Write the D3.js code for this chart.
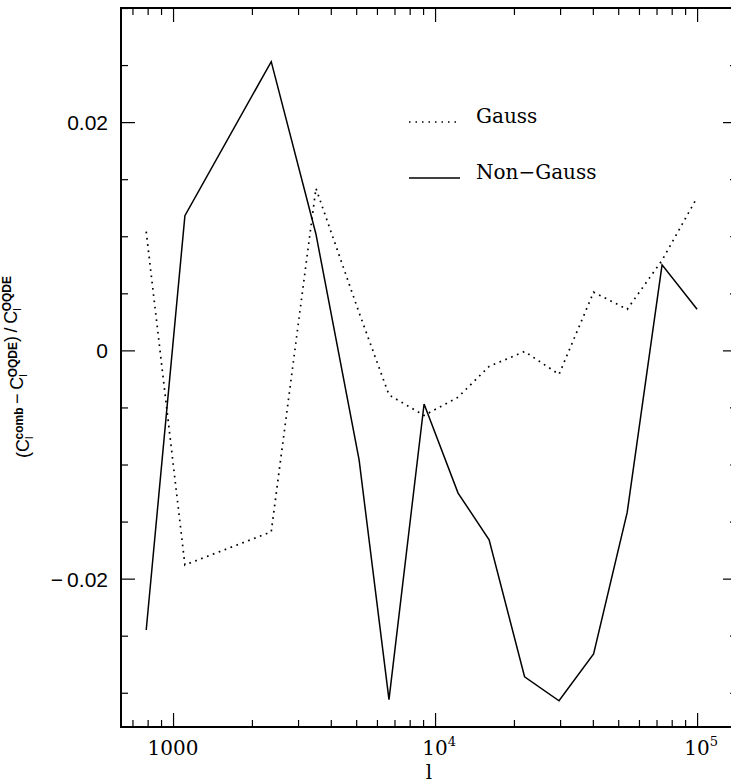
<!DOCTYPE html>
<html>
<head>
<meta charset="utf-8">
<script src="https://cdn.jsdelivr.net/npm/d3@7"></script>
<style>
  body { margin: 0; background: #fff; }
  svg { display: block; }
</style>
</head>
<body>
<div id="chart"></div>
<script>
// multipole l and relative difference (C_l^comb - C_l^OQDE) / C_l^OQDE
const ells = [790, 1110, 2370, 3510, 5130, 6670, 9080, 12240, 16080, 21960, 29720, 40270, 54100, 73500, 100000]
const gauss = [0.0104, -0.0188, -0.0159, 0.0142, 0.0033, -0.0039, -0.0057, -0.0041, -0.0014, -0.0001, -0.0021, 0.0051, 0.0036, 0.0079, 0.0134]
const nonGauss = [-0.0245, 0.0118, 0.0253, 0.0102, -0.0096, -0.0306, -0.0047, -0.0125, -0.0166, -0.0286, -0.0307, -0.0266, -0.0142, 0.0075, 0.0036]

const xMajor = [1000, 1e4, 1e5]
const xLabels = [['1000', ''], ['10', '4'], ['10', '5']]
const yMajor = [-0.02, 0, 0.02]
const yLabels = ['\u2212\u20090.02', '0', '0.02']

const width = 731
const height = 783
const frame = { left: 121, right: 737, top: 8, bottom: 727 }

const svg = d3.select('#chart')
  .append('svg')
  .attr('width', width)
  .attr('height', height)

const x = d3.scaleLog()
  .domain([633, 142000])
  .range([frame.left, frame.right])

const y = d3.scaleLinear()
  .domain([-0.033, 0.030])
  .range([frame.bottom, frame.top])

const xMinor = x.ticks().filter(d => !xMajor.includes(d))
const yMinor = d3.range(-0.03, 0.0301, 0.005).map(d => +d.toFixed(3)).filter(d => !yMajor.includes(d))

// inward ticks on all four sides
function drawTicks (axis, values, size, transform) {
  const g = svg.append('g')
    .attr('transform', transform)
    .call(axis.tickValues(values).tickSize(size).tickSizeOuter(0).tickFormat(''))
  g.select('.domain').remove()
  g.selectAll('line').attr('stroke', '#000').attr('stroke-width', 1.2)
}

drawTicks(d3.axisBottom(x), xMinor, -7, `translate(0,${frame.bottom})`)
drawTicks(d3.axisBottom(x), xMajor, -14, `translate(0,${frame.bottom})`)
drawTicks(d3.axisTop(x), xMinor, -7, `translate(0,${frame.top})`)
drawTicks(d3.axisTop(x), xMajor, -14, `translate(0,${frame.top})`)
drawTicks(d3.axisLeft(y), yMinor, -7, `translate(${frame.left},0)`)
drawTicks(d3.axisLeft(y), yMajor, -14, `translate(${frame.left},0)`)
drawTicks(d3.axisRight(y), yMinor, -7, `translate(${frame.right},0)`)
drawTicks(d3.axisRight(y), yMajor, -14, `translate(${frame.right},0)`)

svg.append('rect')
  .attr('x', frame.left)
  .attr('y', frame.top)
  .attr('width', frame.right - frame.left)
  .attr('height', frame.bottom - frame.top)
  .attr('fill', 'none')
  .attr('stroke', '#000')
  .attr('stroke-width', 2)

// tick labels
svg.selectAll('.ylab')
  .data(yMajor)
  .join('text')
  .attr('class', 'ylab')
  .attr('x', 108)
  .attr('y', d => y(d) + 8)
  .attr('text-anchor', 'end')
  .attr('font-family', 'Liberation Sans, Arial, sans-serif')
  .attr('font-size', 21)
  .text((d, i) => yLabels[i])

const xl = svg.selectAll('.xlab')
  .data(xMajor)
  .join('text')
  .attr('class', 'xlab')
  .attr('x', (d, i) => x(d) + (xLabels[i][1] ? 4 : 0))
  .attr('y', 755)
  .attr('text-anchor', 'middle')
  .attr('font-family', 'DejaVu Serif, serif')
  .attr('font-size', 20)

xl.append('tspan').text((d, i) => xLabels[i][0])
xl.append('tspan')
  .attr('dy', -9)
  .attr('font-size', 13)
  .text((d, i) => xLabels[i][1])

svg.append('text')
  .attr('x', 429)
  .attr('y', 779)
  .attr('text-anchor', 'middle')
  .attr('font-family', 'DejaVu Serif, serif')
  .attr('font-size', 20)
  .text('l')

// y axis title
const yt = svg.append('text')
  .attr('transform', 'translate(29,367) rotate(-90)')
  .attr('text-anchor', 'middle')
  .attr('font-family', 'Liberation Sans, Arial, sans-serif')
  .attr('font-size', 18)

function cTerm (prefix, sup) {
  yt.append('tspan').text(prefix)
  yt.append('tspan').attr('font-size', 11).attr('dy', 4).text('l')
  yt.append('tspan').attr('font-size', 12).attr('font-weight', 'bold').attr('dx', -3).attr('dy', -10).text(sup)
  yt.append('tspan').attr('dy', 6).text('')
}
cTerm('(C', 'comb')
cTerm('\u2009\u2212\u2009C', 'OQDE')
cTerm(')\u2009/\u2009C', 'OQDE')

// data lines
const line = d3.line()
  .x((d, i) => x(ells[i]))
  .y(d => y(d))

svg.append('path')
  .datum(gauss)
  .attr('d', line)
  .attr('fill', 'none')
  .attr('stroke', '#000')
  .attr('stroke-width', 1.7)
  .attr('stroke-dasharray', '1.7 4.6')

svg.append('path')
  .datum(nonGauss)
  .attr('d', line)
  .attr('fill', 'none')
  .attr('stroke', '#000')
  .attr('stroke-width', 1.5)

// legend
const legend = [
  { label: 'Gauss', dash: '1.5 5', y: 122 },
  { label: 'Non\u2212Gauss', dash: null, y: 178 }
]

legend.forEach(d => {
  svg.append('line')
    .attr('x1', 409)
    .attr('x2', 460)
    .attr('y1', d.y)
    .attr('y2', d.y)
    .attr('stroke', '#000')
    .attr('stroke-width', d.dash ? 1.7 : 1.5)
    .attr('stroke-dasharray', d.dash)
  svg.append('text')
    .attr('x', 476)
    .attr('y', d.y + 1)
    .attr('font-family', 'DejaVu Serif, serif')
    .attr('font-size', 20)
    .text(d.label)
})
</script>
</body>
</html>
